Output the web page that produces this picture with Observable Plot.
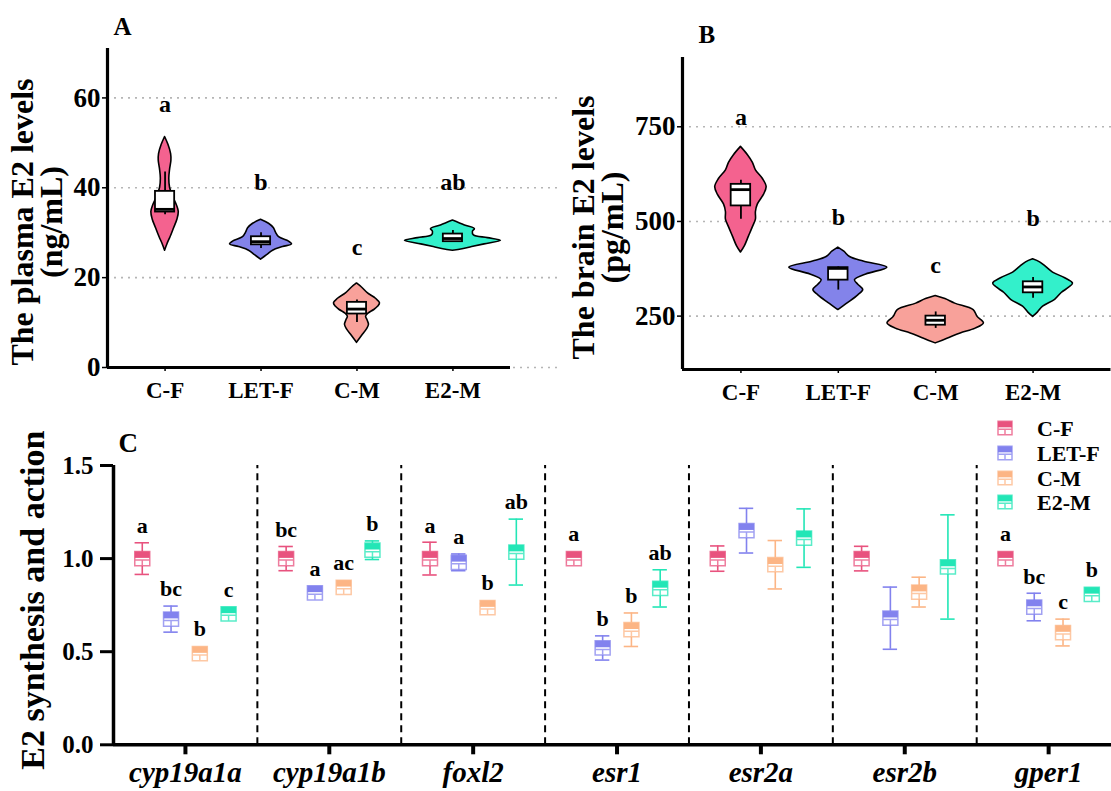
<!DOCTYPE html>
<html><head><meta charset="utf-8">
<script src="https://cdn.jsdelivr.net/npm/d3@7"></script>
<script src="https://cdn.jsdelivr.net/npm/@observablehq/plot@0.6"></script>
<style>
body{margin:0;background:#fff;}
#wrap{position:relative;width:1111px;height:791px;overflow:hidden;background:#fff;font-family:'Liberation Serif','Times New Roman',serif;}
#wrap > svg{position:absolute;overflow:visible;}
</style></head><body><div id="wrap"></div>
<script>
// ---------------- DATA ----------------
const groups = ["C-F", "LET-F", "C-M", "E2-M"];
const violinColors = ["#F4628F", "#8383EA", "#F8A19A", "#33F0CB"];
const dotColors = ["#E8527E", "#8282EE", "#FCB585", "#22E6B6"];

// Panel A: plasma E2 (ng/mL). Violin outline: [value, half-width in category units]
const plasmaCF = [[26,0],[27.5,.026],[29,.057],[31,.094],[33,.13],[34.6,.143],[36,.125],[38,.083],[40,.052],[42,.044],[44,.052],[46,.066],[47.5,.063],[49.5,.036],[51.3,0]];
const plasmaLET = [[24,0],[25,.063],[26,.125],[26.8,.229],[27.4,.323],[28,.292],[29,.188],[30,.156],[31,.135],[32,.083],[32.9,0]];
const plasmaCM = [[5.5,0],[7,.052],[8.5,.104],[9.5,.125],[10.5,.11],[11.3,.095],[12,.12],[12.8,.18],[13.5,.219],[14.3,.24],[15.3,.198],[16.5,.115],[17.8,.052],[18.7,0]];
const plasmaE2 = [[26,0],[26.3,.1],[26.8,.2],[27.4,.33],[28.2,.5],[28.8,.365],[29.4,.219],[30.2,.208],[30.8,.229],[31.6,.125],[32.7,0]];
// box: [lowWhisker, q1, median, q3, highWhisker]
const plasmaBox = [[34,34.6,35.2,39.2,43.5],[26.5,27.3,28,29.1,30],[10,11.9,13,14.5,15],[27.8,28,28.7,29.7,30.5]];
const plasmaLetters = ["a", "b", "c", "ab"];
const plasmaLetterY = [58.5, 41.2, 26.8, 41.2];
const plasmaTicks = [0, 20, 40, 60];

// Panel B: brain E2 (pg/mL)
const brainCF = [[418,0],[435,.041],[460,.082],[485,.123],[505,.154],[525,.154],[545,.174],[570,.236],[591,.264],[612,.226],[635,.154],[655,.123],[675,.072],[697,0]];
const brainLET = [[266,0],[285,.103],[305,.205],[319,.256],[333,.205],[345,.171],[360,.287],[378,.503],[394,.26],[406,.12],[420,.062],[431,0]];
const brainCM = [[178,0],[190,.12],[204,.256],[217,.41],[231,.495],[248,.43],[266,.39],[283,.2],[295,.1],[303,0]];
const brainE2 = [[248,0],[260,.051],[275,.103],[293,.226],[311,.294],[325,.37],[336,.41],[350,.33],[365,.205],[380,.133],[392,.072],[400,0]];
const brainBox = [[506,541,584,598,609],[318.7,345,376,378,380],[217.5,226,239,250,261],[297,311.5,327,340.6,352]];
const brainLetters = ["a", "b", "c", "b"];
const brainLetterY = [776, 512, 385, 508];
const brainTicks = [250, 500, 750];

// Panel C: relative expression, mean and error
const genes = ["cyp19a1a", "cyp19a1b", "foxl2", "esr1", "esr2a", "esr2b", "gper1"];
const meanCF  = [1.0, 1.0, 1.0, 1.0, 1.0, 1.0, 1.0];
const errCF   = [0.085, 0.065, 0.088, 0.02, 0.068, 0.066, 0.03];
const meanLET = [0.675, 0.816, 0.98, 0.52, 1.15, 0.68, 0.74];
const errLET  = [0.07, 0.02, 0.045, 0.065, 0.12, 0.167, 0.074];
const meanCM  = [0.49, 0.846, 0.737, 0.618, 0.967, 0.82, 0.603];
const errCM   = [0.03, 0.02, 0.02, 0.09, 0.13, 0.08, 0.072];
const meanE2  = [0.703, 1.045, 1.035, 0.84, 1.11, 0.955, 0.808];
const errE2   = [0.03, 0.05, 0.177, 0.10, 0.157, 0.28, 0.02];
const lettersCF  = ["a", "bc", "a", "a", "", "", "a"];
const lettersLET = ["bc", "a", "a", "b", "", "", "bc"];
const lettersCM  = ["b", "ac", "b", "b", "", "", "c"];
const lettersE2  = ["c", "b", "ab", "ab", "", "", "b"];
const exprTicks = [0, 0.5, 1.0, 1.5];

// ---------------- DRAWING ----------------
const FONT = "'Liberation Serif', 'Times New Roman', serif";
const wrap = document.getElementById("wrap");
function place(svg, left, top) { svg.style.left = left + "px"; svg.style.top = top + "px"; wrap.appendChild(svg); }

function violinPanel(o) {
  const vData = o.profiles.flatMap((p, g) => p.map(([v, w]) => ({g, v, w})));
  const bData = o.boxes.map(([lo, q1, med, q3, hi], g) => ({g, lo, q1, med, q3, hi}));
  const lData = o.letters.map((t, g) => ({g, t, y: o.letterY[g]}));
  const bw = 0.1;
  return Plot.plot({
    width: o.width, height: o.height,
    marginLeft: o.ml, marginRight: o.mr, marginTop: o.mt, marginBottom: o.mb,
    x: {type: "linear", domain: [-0.6, 3.6], axis: null},
    y: {domain: o.yDomain, axis: null},
    color: {type: "identity"},
    style: {fontFamily: FONT, color: "black", background: "transparent", overflow: "visible"},
    marks: [
      Plot.ruleY(o.grid, {x1: -0.6, x2: o.gridX2, stroke: "#b5b5b5", strokeDasharray: "2,5", strokeWidth: 1.6}),
      Plot.areaX(vData, {y: "v", x1: d => d.g - d.w, x2: d => d.g + d.w, z: "g", fill: d => violinColors[d.g], stroke: "black", strokeWidth: 1.6, curve: "catmull-rom"}),
      Plot.ruleX(bData, {x: "g", y1: "lo", y2: "hi", stroke: "black", strokeWidth: 1.8}),
      Plot.rect(bData, {x1: d => d.g - bw, x2: d => d.g + bw, y1: "q1", y2: "q3", fill: "white", stroke: "black", strokeWidth: 1.8}),
      Plot.ruleY(bData, {y: "med", x1: d => d.g - bw, x2: d => d.g + bw, stroke: "black", strokeWidth: 2.8}),
      Plot.text(lData, {x: "g", y: "y", text: "t", fontFamily: FONT, fontSize: 24, fontWeight: "bold"}),
      Plot.axisY(o.yTicks, {tickSize: 5, tickPadding: 2, fontFamily: FONT, fontSize: 27, fontWeight: "bold", label: null, strokeWidth: 1.5}),
      Plot.axisX([0, 1, 2, 3], {tickFormat: i => groups[i], tickSize: 4, tickPadding: 10, fontFamily: FONT, fontSize: 23, fontWeight: "bold", label: null, strokeWidth: 1.5}),
      Plot.ruleX([-0.6], {y1: o.yDomain[0], y2: o.yDomain[1], stroke: "black", strokeWidth: 3.2}),
      Plot.ruleY([o.yDomain[0]], {x1: -0.6, x2: o.axisX2, stroke: "black", strokeWidth: 3.2}),
      Plot.text([o.title], {frameAnchor: "left", rotate: -90, dx: o.titleDx, dy: o.titleDy, fontFamily: FONT, fontSize: 32, fontWeight: "bold", lineHeight: 0.9, textAnchor: "middle", lineAnchor: "middle"}),
      Plot.text([o.panel], {frameAnchor: "top-left", dx: o.pdx, dy: o.pdy, fontFamily: FONT, fontSize: 25, fontWeight: "bold", textAnchor: "start", lineAnchor: "top"})
    ]
  });
}

place(violinPanel({
  profiles: [plasmaCF, plasmaLET, plasmaCM, plasmaE2], boxes: plasmaBox,
  letters: plasmaLetters, letterY: plasmaLetterY,
  width: 560, height: 400, ml: 107, mr: 50, mt: 48, mb: 33,
  yDomain: [0, 71], yTicks: plasmaTicks, grid: plasmaTicks, gridX2: 4.1, axisX2: 3.6,
  title: "The plasma E2 levels\n(ng/mL)", titleDx: -69, titleDy: 14,
  panel: "A", pdx: 6, pdy: -31
}), 0, 0);

place(violinPanel({
  profiles: [brainCF, brainLET, brainCM, brainE2], boxes: brainBox,
  letters: brainLetters, letterY: brainLetterY,
  width: 551, height: 400, ml: 122, mr: 20, mt: 57, mb: 31,
  yDomain: [109, 933], yTicks: brainTicks, grid: brainTicks, gridX2: 3.82, axisX2: 3.8,
  title: "The brain E2 levels\n(pg/mL)", titleDx: -83, titleDy: 14,
  panel: "B", pdx: 16, pdy: -32
}), 560, 0);

// glyph symbols
const glyphFill = {draw(ctx, size) {
  const r = Math.sqrt(size / Math.PI), w = r, h = r * 0.95;
  ctx.moveTo(-w, -h); ctx.lineTo(w, -h); ctx.lineTo(w, -0.1 * h); ctx.lineTo(-w, -0.1 * h); ctx.closePath();
}};
const glyphLine = {draw(ctx, size) {
  const r = Math.sqrt(size / Math.PI), w = r, h = r * 0.95;
  ctx.moveTo(-w, -h); ctx.lineTo(w, -h); ctx.lineTo(w, h); ctx.lineTo(-w, h); ctx.closePath();
  ctx.moveTo(-w, 0.2 * h); ctx.lineTo(w, 0.2 * h);
  ctx.moveTo(0, 0.2 * h); ctx.lineTo(0, h);
}};

const offsets = [-0.3, -0.1, 0.1, 0.3];
const means = [meanCF, meanLET, meanCM, meanE2];
const errs = [errCF, errLET, errCM, errE2];
const lets = [lettersCF, lettersLET, lettersCM, lettersE2];
const exprData = groups.flatMap((grp, k) => genes.map((gene, i) => ({
  k, x: i + offsets[k], mean: means[k][i], err: errs[k][i], letter: lets[k][i],
  color: dotColors[k]
})));

const xMax = 6.437;
const plotC = Plot.plot({
  width: 1111, height: 391,
  marginLeft: 113, marginRight: 0, marginTop: 65, marginBottom: 46.7,
  x: {type: "linear", domain: [-0.5, xMax], axis: null},
  y: {domain: [0, 1.5], axis: null},
  color: {type: "identity"},
  style: {fontFamily: FONT, color: "black", background: "transparent", overflow: "visible"},
  marks: [
    Plot.ruleX(d3.range(genes.length - 1).map(i => i + 0.5), {y1: 0, y2: 1.5, stroke: "black", strokeWidth: 2, strokeDasharray: "7,5"}),
    Plot.ruleX(exprData, {x: "x", y1: d => d.mean - d.err, y2: d => d.mean + d.err, stroke: "color", strokeWidth: 1.6}),
    Plot.ruleY(exprData, {y: d => d.mean + d.err, x1: d => d.x - 0.05, x2: d => d.x + 0.05, stroke: "color", strokeWidth: 1.6}),
    Plot.ruleY(exprData, {y: d => d.mean - d.err, x1: d => d.x - 0.05, x2: d => d.x + 0.05, stroke: "color", strokeWidth: 1.6}),
    Plot.dot(exprData, {x: "x", y: "mean", r: 7.5, symbol: glyphLine, fill: "white", stroke: "color", strokeWidth: 1.5, strokeOpacity: 0.75}),
    Plot.dot(exprData, {x: "x", y: "mean", r: 7.5, symbol: glyphFill, fill: "color", stroke: "none"}),
    Plot.text(exprData.filter(d => d.letter), {x: "x", y: d => d.mean + Math.max(d.err, 0.04) + 0.09, text: "letter", fontFamily: FONT, fontSize: 22, fontWeight: "bold"}),
    Plot.axisY(exprTicks, {tickFormat: d3.format(".1f"), tickSize: 13, tickPadding: 7, fontFamily: FONT, fontSize: 25, fontWeight: "bold", label: null, strokeWidth: 3}),
    Plot.axisX(d3.range(genes.length), {tickFormat: i => genes[i], tickSize: 10, tickPadding: 7, fontFamily: FONT, fontSize: 29, fontWeight: "bold", fontStyle: "italic", label: null, strokeWidth: 4}),
    Plot.ruleX([-0.5], {y1: 0, y2: 1.5, stroke: "black", strokeWidth: 3.5}),
    Plot.ruleY([0], {x1: -0.5, x2: xMax, stroke: "black", strokeWidth: 3.5}),
    Plot.text(["E2 synthesis and action"], {frameAnchor: "left", rotate: -90, dx: -80, dy: -5, fontFamily: FONT, fontSize: 34, fontWeight: "bold", textAnchor: "middle", lineAnchor: "middle"}),
    Plot.text(["C"], {frameAnchor: "top-left", dx: 5, dy: -33, fontFamily: FONT, fontSize: 27, fontWeight: "bold", textAnchor: "start", lineAnchor: "top"})
  ]
});
place(plotC, 0, 400);

// legend
const leg = d3.create("svg").attr("width", 126).attr("height", 110).style("left", "985px").style("top", "413px");
const rowsY = [15, 40, 65, 89];
groups.forEach((grp, k) => {
  const g = leg.append("g").attr("transform", `translate(20,${rowsY[k]})`);
  g.append("path").attr("d", d3.symbol(glyphLine, Math.PI * 7 * 7)()).attr("fill", "white").attr("stroke", dotColors[k]).attr("stroke-width", 1.5).attr("stroke-opacity", 0.75);
  g.append("path").attr("d", d3.symbol(glyphFill, Math.PI * 7 * 7)()).attr("fill", dotColors[k]);
  leg.append("text").attr("x", 52).attr("y", rowsY[k]).attr("dy", "0.35em").attr("font-family", FONT).attr("font-size", 22).attr("font-weight", "bold").text(grp);
});
wrap.appendChild(leg.node());
</script></body></html>
